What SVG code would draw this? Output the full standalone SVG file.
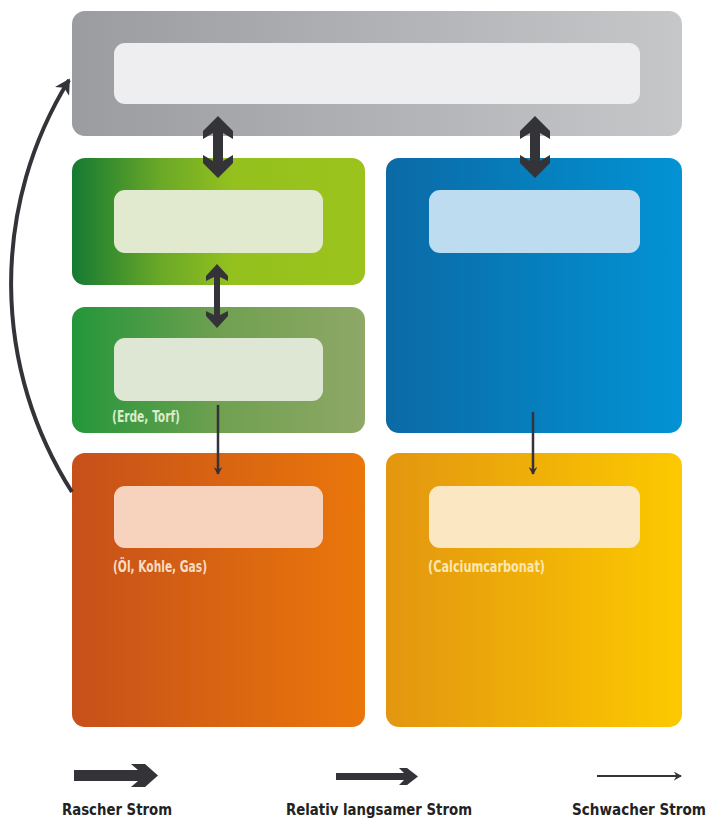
<svg xmlns="http://www.w3.org/2000/svg" width="714" height="823" viewBox="0 0 714 823">
<defs>
<linearGradient id="gGray" x1="0" y1="0" x2="1" y2="0"><stop offset="0" stop-color="#9b9ca0"/><stop offset="1" stop-color="#c6c7c9"/></linearGradient>
<linearGradient id="gGreen1" x1="0" y1="0" x2="1" y2="0"><stop offset="0" stop-color="#147a32"/><stop offset="0.3" stop-color="#6aa828"/><stop offset="0.55" stop-color="#94c11e"/><stop offset="1" stop-color="#9cc31c"/></linearGradient>
<linearGradient id="gGreen2" x1="0" y1="0" x2="1" y2="0"><stop offset="0" stop-color="#23963a"/><stop offset="0.5" stop-color="#6fa050"/><stop offset="1" stop-color="#8fa867"/></linearGradient>
<linearGradient id="gBlue" x1="0" y1="0" x2="1" y2="0"><stop offset="0" stop-color="#0b6aa6"/><stop offset="1" stop-color="#0293d4"/></linearGradient>
<linearGradient id="gOrange" x1="0" y1="0" x2="1" y2="0"><stop offset="0" stop-color="#c6501a"/><stop offset="1" stop-color="#ea770a"/></linearGradient>
<linearGradient id="gYellow" x1="0" y1="0" x2="1" y2="0"><stop offset="0" stop-color="#e39610"/><stop offset="1" stop-color="#fcc900"/></linearGradient>
<marker id="hSmall" viewBox="0 0 10 10" refX="8" refY="5" markerWidth="3.4" markerHeight="3.4" orient="auto"><path d="M0,0 L9,5 L0,10 L3,5 Z" fill="#333338"/></marker>
<marker id="hThin" viewBox="0 0 10 10" refX="8" refY="5" markerWidth="4.5" markerHeight="4.5" orient="auto"><path d="M0,0 L9,5 L0,10 L3,5 Z" fill="#333338"/></marker>
<marker id="hCurve" viewBox="0 0 10 10" refX="8" refY="5" markerWidth="4.2" markerHeight="4.2" orient="auto"><path d="M0,0 L9,5 L0,10 L2.5,5 Z" fill="#333338"/></marker>
</defs>
<style>
.box{stroke:none}
.sub{font-family:"DejaVu Sans Condensed","Liberation Sans Narrow","Liberation Sans",sans-serif;font-size:15px;font-weight:600}
.leg{font-family:"DejaVu Sans Condensed","Liberation Sans Narrow","Liberation Sans",sans-serif;font-size:15.5px;font-weight:bold;fill:#222}
.arrow{fill:#333338}
.line{stroke:#333338;fill:none}
</style>
<rect width="714" height="823" fill="#ffffff"/>
<g id="atmosphere">
<rect class="box" x="72" y="11" width="610" height="125" rx="13" fill="url(#gGray)"/>
<rect x="114" y="43" width="526" height="61" rx="11" fill="#eeeef0"/>
</g>
<g id="biosphere">
<rect class="box" x="72" y="158" width="293" height="127" rx="13" fill="url(#gGreen1)"/>
<rect x="114" y="190" width="209" height="63" rx="11" fill="#e1eacf"/>
</g>
<g id="soil">
<rect class="box" x="72" y="307" width="293" height="126" rx="13" fill="url(#gGreen2)"/>
<rect x="114" y="338" width="209" height="63" rx="11" fill="#dde7d4"/>
<text class="sub" x="112" y="422" fill="#dcebc9" textLength="68" lengthAdjust="spacingAndGlyphs">(Erde, Torf)</text>
</g>
<g id="ocean">
<rect class="box" x="386" y="158" width="296" height="275" rx="13" fill="url(#gBlue)"/>
<rect x="429" y="190" width="211" height="63" rx="11" fill="#bddcf0"/>
</g>
<g id="fossil">
<rect class="box" x="72" y="453" width="293" height="274" rx="13" fill="url(#gOrange)"/>
<rect x="114" y="486" width="209" height="62" rx="11" fill="#f7d3bd"/>
<text class="sub" x="113" y="572" fill="#f8dcc4" textLength="94" lengthAdjust="spacingAndGlyphs">(Öl, Kohle, Gas)</text>
</g>
<g id="sediment">
<rect class="box" x="386" y="453" width="296" height="274" rx="13" fill="url(#gYellow)"/>
<rect x="429" y="486" width="211" height="62" rx="11" fill="#fbe7c2"/>
<text class="sub" x="428" y="572" fill="#fbe7b0" textLength="117" lengthAdjust="spacingAndGlyphs">(Calciumcarbonat)</text>
</g>
<g id="connectors">
<polygon class="arrow" points="218,116 233,131 233,139 223,133 223,161 233,155 233,163 218,178 203,163 203,155 213,161 213,133 203,139 203,131"/>
<polygon class="arrow" points="535,116 550,131 550,139 540,133 540,161 550,155 550,163 535,178 520,163 520,155 530,161 530,133 520,139 520,131"/>
<polygon class="arrow" points="217,264 228,276 228,281 220,277 220,315 228,311 228,316 217,328 206,316 206,311 214,315 214,277 206,281 206,276"/>
<line class="line" x1="218" y1="405" x2="218" y2="474" stroke-width="2.5" marker-end="url(#hSmall)"/>
<line class="line" x1="533" y1="412" x2="533" y2="474" stroke-width="2.5" marker-end="url(#hSmall)"/>
<path class="line" d="M72,492 A387,387 0 0 1 69,80" stroke-width="4" marker-end="url(#hCurve)"/>
</g>
<g id="legend">
<polygon class="arrow" points="74,770 138,770 131,764 145,764 158,775.5 145,787 131,787 138,781 74,781"/>
<polygon class="arrow" points="336,773 404,773 399,768 407,768 418,776.5 407,785 399,785 404,780 336,780"/>
<line class="line" x1="597" y1="776" x2="681" y2="776" stroke-width="2" marker-end="url(#hThin)"/>
<text class="leg" x="62" y="815" textLength="110" lengthAdjust="spacingAndGlyphs">Rascher Strom</text>
<text class="leg" x="286" y="815" textLength="186" lengthAdjust="spacingAndGlyphs">Relativ langsamer Strom</text>
<text class="leg" x="572" y="815" textLength="134" lengthAdjust="spacingAndGlyphs">Schwacher Strom</text>
</g>
</svg>
